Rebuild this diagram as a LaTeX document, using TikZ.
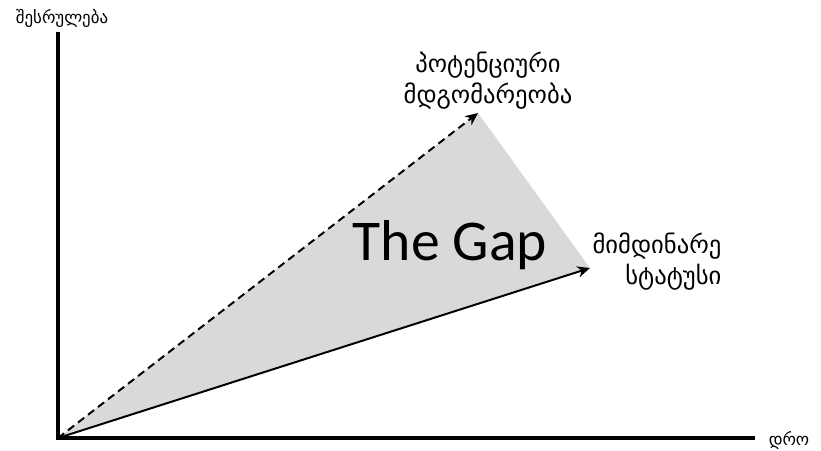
\documentclass[tikz,border=0pt]{standalone}
\usepackage{fontspec}
\usepackage{tikz}
\usetikzlibrary{calc}
\usetikzlibrary{arrows.meta}
\newfontfamily\geo{DejaVu Sans}
\newfontfamily\gapfont{Carlito}

\begin{document}
\begin{tikzpicture}[x=0.025cm, y=-0.025cm]
\useasboundingbox (0, 0) rectangle (821, 450);
\coordinate (O) at (58, 438);
\coordinate (Ytop) at (58, 32);
\coordinate (Xend) at (755, 438);
\coordinate (Pot) at (478, 113);
\coordinate (Cur) at (590, 268);
\fill[gray!30] (O) -- (Pot) -- (Cur) -- cycle;
\draw[line width=2.2pt] (Ytop) -- (O) -- (Xend);
\draw[-{Stealth[length=9pt,width=8pt]}, line width=1.4pt, dash pattern=on 5.5pt off 3.5pt] (O) -- (Pot);
\draw[-{Stealth[length=9pt,width=8pt]}, line width=1.4pt] (O) -- (Cur);
\node[font=\geo\fontsize{12}{14}\selectfont] (ylab) at (62, 18) {შესრულება};
\node[font=\geo\fontsize{12}{14}\selectfont] (xlab) at (789, 440) {დრო};
\node[align=center, font=\geo\fontsize{17.5}{22}\selectfont] (potlab) at (488, 81) {პოტენციური\\მდგომარეობა};
\node[align=right, font=\geo\fontsize{17.5}{22}\selectfont] (curlab) at (657, 262) {მიმდინარე\\სტატუსი};
\node[font=\gapfont\fontsize{41}{48}\selectfont] (gap) at (450, 245) {The Gap};
\end{tikzpicture}
\end{document}
